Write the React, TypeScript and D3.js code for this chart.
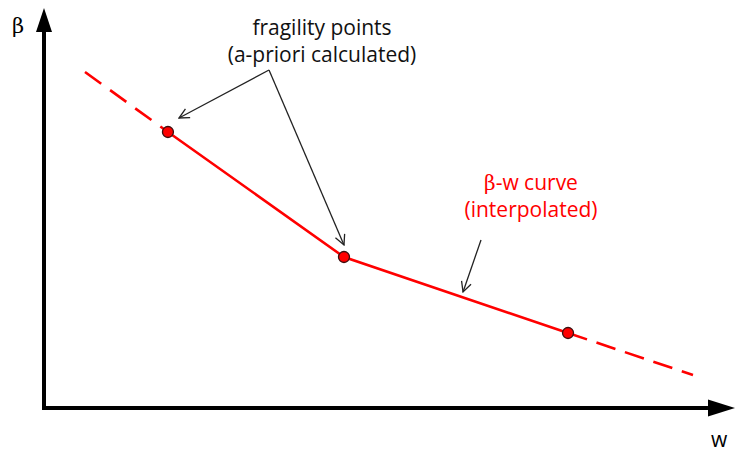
import * as d3 from 'd3';
import React from 'react';

// fragility points (a-priori calculated), abstract w / beta units
const pointW = [1.82, 4.405, 7.695];
const pointBeta = [6.9, 3.775, 1.875];

// dashed extrapolation ends
const extraW = [0.602, 9.53];
const extraBeta = [8.4, 0.825];

// annotation arrows: [fromW, fromBeta, toW, toBeta]
const fragilityArrows = [
    [3.304, 8.45, 1.982, 7.25],
    [3.304, 8.45, 4.405, 4.075],
];
const curveArrow = [6.417, 4.2, 6.153, 2.9];

const fragilityLabel = ['fragility points', '(a-priori calculated)'];
const curveLabel = ['-w curve', '(interpolated)'];

const width = 735;
const height = 452;

const App = (): React.ReactElement => {
    const x = d3.scaleLinear().domain([0, 10]).range([44, 725]);
    const y = d3.scaleLinear().domain([0, 10]).range([408, 8]);

    const line = d3
        .line<[number, number]>()
        .x((d) => x(d[0]))
        .y((d) => y(d[1]));

    const pts: [number, number][] = pointW.map((w, i) => [w, pointBeta[i]]);
    const leftDash: [number, number][] = [[extraW[0], extraBeta[0]], pts[0]];
    const rightDash: [number, number][] = [pts[pts.length - 1], [extraW[1], extraBeta[1]]];

    const font = "'Open Sans', sans-serif";
    const serif = "'DejaVu Serif', serif";

    return (
        <svg
            width={width}
            height={height}
            style={{ position: 'absolute', left: 0, top: 0 }}
        >
            <defs>
                <marker
                    id="open"
                    viewBox="0 0 12 12"
                    refX="11"
                    refY="6"
                    markerWidth="12"
                    markerHeight="12"
                    markerUnits="userSpaceOnUse"
                    orient="auto"
                >
                    <path d="M1,1 L11,6 L1,11" fill="none" stroke="#222" strokeWidth="1.3" />
                </marker>
            </defs>

            {/* axes */}
            <line x1={x(0)} y1={y(0)} x2={x(0)} y2={y(9.4)} stroke="#000" strokeWidth={4} />
            <line x1={x(0) - 2} y1={y(0)} x2={x(9.75)} y2={y(0)} stroke="#000" strokeWidth={4} />
            <path
                d={`M${x(0)},${y(10)} L${x(0) + 8},${y(9.4)} L${x(0) - 8},${y(9.4)} Z`}
                fill="#000"
            />
            <path
                d={`M${x(10.15)},${y(0)} L${x(9.75)},${y(0) - 8.5} L${x(9.75)},${y(0) + 8.5} Z`}
                fill="#000"
            />
            <text x={12} y={33} fontFamily={serif} fontSize={21} fill="#000">
                {'\u03b2'}
            </text>
            <text x={711} y={447} fontFamily={font} fontSize={21} fill="#000">
                w
            </text>

            {/* curve */}
            <path d={line(leftDash) ?? ''} fill="none" stroke="#ff0000" strokeWidth={2.6} strokeDasharray="20,11" />
            <path d={line(rightDash) ?? ''} fill="none" stroke="#ff0000" strokeWidth={2.6} strokeDasharray="20,10" />
            <path d={line(pts) ?? ''} fill="none" stroke="#ff0000" strokeWidth={2.6} />
            {pts.map((d, i) => (
                <circle key={i} cx={x(d[0])} cy={y(d[1])} r={5.5} fill="#ff0000" stroke="#3a1010" strokeWidth={1.3} />
            ))}

            {/* annotations */}
            {fragilityArrows.map((a, i) => (
                <line
                    key={i}
                    x1={x(a[0])}
                    y1={y(a[1])}
                    x2={x(a[2])}
                    y2={y(a[3])}
                    stroke="#222"
                    strokeWidth={1.3}
                    markerEnd="url(#open)"
                />
            ))}
            <line
                x1={x(curveArrow[0])}
                y1={y(curveArrow[1])}
                x2={x(curveArrow[2])}
                y2={y(curveArrow[3])}
                stroke="#222"
                strokeWidth={1.3}
                markerEnd="url(#open)"
            />
            {fragilityLabel.map((t, i) => (
                <text key={t} x={322} y={35 + i * 27} textAnchor="middle" fontFamily={font} fontSize={21} fill="#111">
                    {t}
                </text>
            ))}
            <text x={531} y={190} textAnchor="middle" fontFamily={font} fontSize={21} fill="#ff0000">
                <tspan fontFamily={serif} fontSize={20}>{'\u03b2'}</tspan>
                {curveLabel[0]}
            </text>
            <text x={531} y={217} textAnchor="middle" fontFamily={font} fontSize={21} fill="#ff0000">
                {curveLabel[1]}
            </text>
        </svg>
    );
};

export default App;
